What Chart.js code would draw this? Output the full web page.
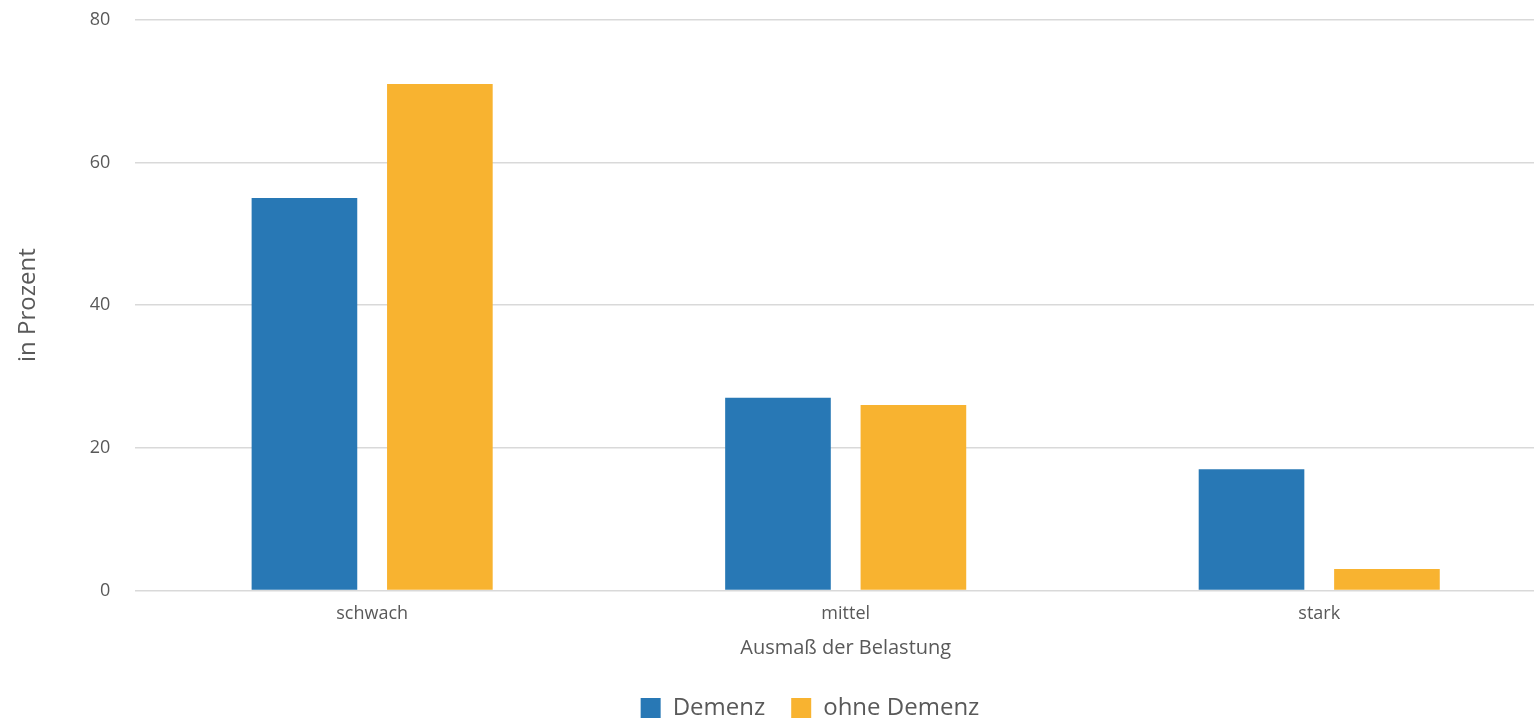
<!DOCTYPE html>
<html>
<head>
<meta charset="utf-8">
<script src="https://cdn.jsdelivr.net/npm/chart.js@4/dist/chart.umd.min.js"></script>
<style>
  html, body { margin: 0; padding: 0; background: #fff; overflow: hidden; }
</style>
</head>
<body>
<canvas id="belastung" width="1560" height="721"></canvas>
<script>
var kategorien = ['schwach', 'mittel', 'stark'];
var demenz = [55, 27, 17];
var ohneDemenz = [71, 26, 3];
var yTicks = [0, 20, 40, 60, 80];

var textColor = '#595959';
var fontName = "'Open Sans', 'Liberation Sans', sans-serif";

// nudge the legend a bit to the right of the canvas centre
var legendShift = {
    id: 'legendShift',
    afterLayout: function(chart) {
        if (chart.legend) {
            chart.legend.left += 25;
            chart.legend.right += 25;
        }
    }
};

var ctx = document.getElementById('belastung').getContext('2d');
var chart1 = new Chart(ctx, {
    type: 'bar',
    data: {
        labels: kategorien,
        datasets: [{
            label: 'Demenz',
            data: demenz,
            backgroundColor: '#2878b5'
        }, {
            label: 'ohne Demenz',
            data: ohneDemenz,
            backgroundColor: '#f8b330'
        }]
    },
    plugins: [legendShift],
    options: {
        responsive: false,
        animation: false,
        categoryPercentage: 0.572,
        barPercentage: 0.78,
        layout: { padding: { left: 14, right: 4, top: 0, bottom: -9 } },
        plugins: {
            tooltip: { enabled: false },
            legend: {
                position: 'bottom',
                labels: {
                    color: textColor,
                    font: { family: fontName, size: 24 },
                    boxWidth: 20,
                    boxHeight: 20,
                    padding: 26
                }
            }
        },
        scales: {
            x: {
                grid: { display: false },
                border: { display: false },
                ticks: {
                    color: textColor,
                    font: { family: fontName, size: 18 },
                    padding: 5
                },
                title: {
                    display: true,
                    text: 'Ausmaß der Belastung',
                    color: textColor,
                    font: { family: fontName, size: 20 },
                    padding: { top: 6, bottom: 10 }
                }
            },
            y: {
                min: 0,
                max: 80,
                afterBuildTicks: function(axis) {
                    axis.ticks = yTicks.map(function(v) { return { value: v }; });
                },
                // invisible tick marks keep the labels clear of the grid
                grid: {
                    color: '#d9d9d9',
                    lineWidth: 1.5,
                    drawTicks: true,
                    tickLength: 16,
                    tickColor: 'rgba(0,0,0,0)'
                },
                border: { display: false },
                ticks: {
                    color: textColor,
                    font: { family: fontName, size: 18 },
                    padding: 9
                },
                title: {
                    display: true,
                    text: 'in Prozent',
                    color: textColor,
                    font: { family: fontName, size: 24 },
                    padding: { top: 0, bottom: 38 }
                }
            }
        }
    }
});
</script>
</body>
</html>
